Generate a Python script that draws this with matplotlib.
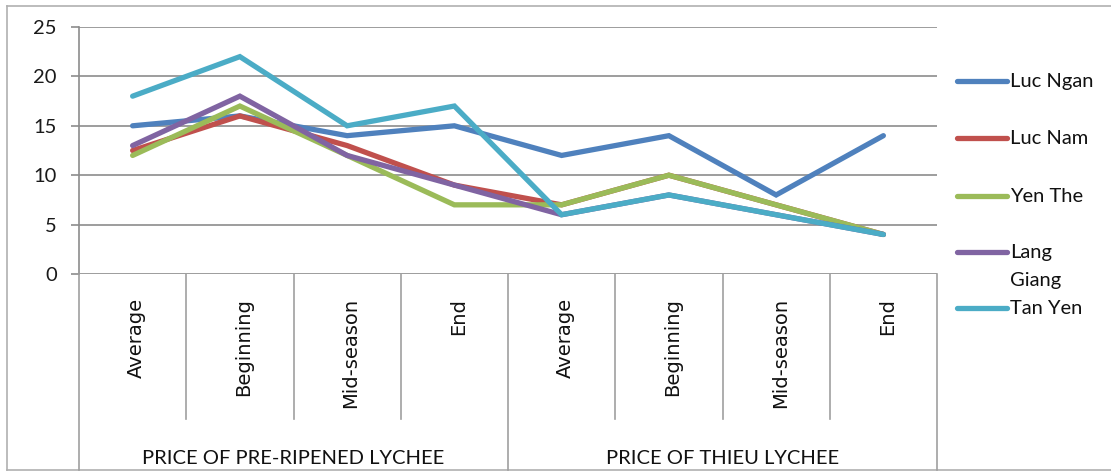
import matplotlib
matplotlib.use("Agg")
import matplotlib.pyplot as plt
from matplotlib.lines import Line2D
import numpy as np

categories = ["Average", "Beginning", "Mid-season", "End",
              "Average", "Beginning", "Mid-season", "End"]
groups = ["PRICE OF PRE-RIPENED LYCHEE", "PRICE OF THIEU LYCHEE"]
series_names = ["Luc Ngan", "Luc Nam", "Yen The", "Lang\nGiang", "Tan Yen"]
luc_ngan = [15, 16, 14, 15, 12, 14, 8, 14]
luc_nam = [12.5, 16, 13, 9, 7, 10, 7, 4]
yen_the = [12, 17, 12, 7, 7, 10, 7, 4]
lang_giang = [13, 18, 12, 9, 6, 8, 6, 4]
tan_yen = [18, 22, 15, 17, 6, 8, 6, 4]
colors = ["#4F81BD", "#C0504D", "#9BBB59", "#8064A2", "#4BACC6"]
yticks = [0, 5, 10, 15, 20, 25]

W, H = 1111, 472
fig = plt.figure(figsize=(W / 100, H / 100), dpi=100)
fx = lambda px: px / W
fy = lambda py: 1 - py / H

left, right, top, bottom = 79, 937, 27, 274
ax = fig.add_axes([fx(left), fy(bottom), fx(right - left), (bottom - top) / H])

x = np.arange(len(categories))
data = [luc_ngan, luc_nam, yen_the, lang_giang, tan_yen]
for vals, c in zip(data, colors):
    ax.plot(x, vals, color=c, lw=3.8, solid_capstyle="round", solid_joinstyle="miter", zorder=3)

ax.set_xlim(-0.5, len(categories) - 0.5)
ax.set_ylim(0, 25)
ax.set_yticks(yticks)
ax.set_yticklabels([str(t) for t in yticks], fontsize=14.5, family="Lato", color="#1a1a1a")
ax.set_xticks([])
ax.grid(axis="y", color="#8c8c8c", lw=1.2, zorder=1)
for s in ["top", "right", "bottom"]:
    ax.spines[s].set_visible(False)
ax.spines["left"].set_color("#8c8c8c")
ax.spines["left"].set_linewidth(1.2)
ax.tick_params(axis="y", length=6, width=1.2, color="#8c8c8c", pad=10)

gc = "#a0a0a0"
def fline(x0, y0, x1, y1, lw=1.2, color=gc):
    fig.add_artist(Line2D([fx(x0), fx(x1)], [fy(y0), fy(y1)], color=color, lw=lw))

# outer frame
fline(7, 6, W, 6, color="#b0b0b0")
fline(7, 6, 7, 470, color="#b0b0b0")
fline(7, 470, W, 470, color="#b0b0b0")
# y axis extension to bottom
fline(left, bottom, left, 470)
# category dividers
step = (right - left) / len(categories)
for i in range(1, len(categories) + 1):
    xp = left + i * step
    if i == 4 or i == 8:
        fline(xp, bottom, xp, 470)
    else:
        fline(xp, bottom, xp, 419)

# category labels
for i, lab in enumerate(categories):
    xc = left + (i + 0.5) * step
    fig.text(fx(xc + 4), fy(298), lab, rotation=90, ha="center", va="top",
             fontsize=14, family="DejaVu Sans", color="#111111")

# group labels
for g, lab in enumerate(groups):
    xc = left + (g * 4 + 2) * step
    fig.text(fx(xc), fy(458), lab, ha="center", va="center",
             fontsize=14.5, family="Lato", color="#111111")

# legend
leg_y = [81, 138, 196, 252, 308]
for name, c, yy in zip(series_names, colors, leg_y):
    fig.add_artist(Line2D([fx(957), fx(1007)], [fy(yy), fy(yy)], color=c, lw=3.8,
                          solid_capstyle="round"))
    for k, part in enumerate(name.split("\n")):
        fig.text(fx(1010), fy(yy - 1 + k * 28), part, ha="left", va="center_baseline",
                 fontsize=14.5, family="Lato", color="#111111")

fig.savefig("out.png", dpi=100)
